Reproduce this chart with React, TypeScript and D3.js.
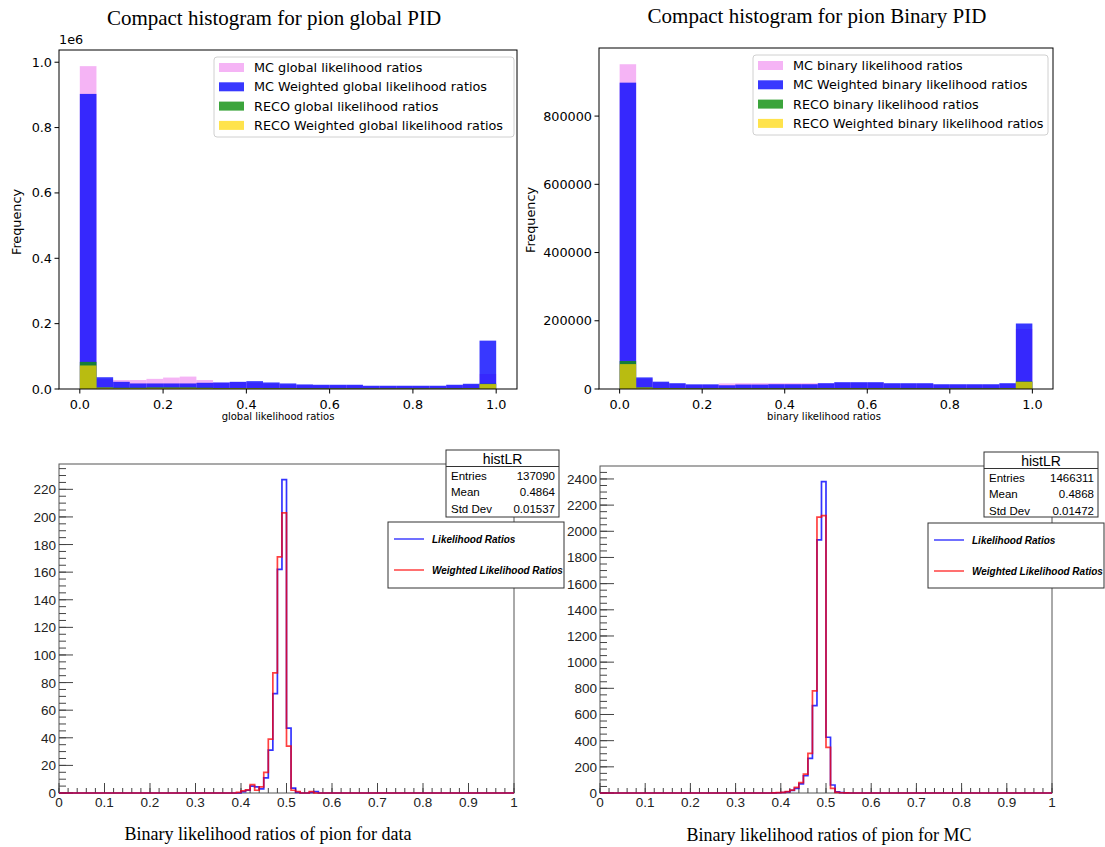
import React from "react";
import * as d3 from "d3";

// ---------- DATA: top histograms (25 bins over 0..1) ----------
const TOP_BINS = 25;
const globalMC = [988000, 30000, 27500, 27500, 31000, 35000, 38000, 27500, 19000, 21000, 19000, 16000, 13000, 12000, 11000, 11000, 11000, 8500, 8500, 8500, 8500, 8500, 11000, 13000, 46000];
const globalMCW = [903000, 36000, 22000, 17000, 17000, 17000, 17000, 19000, 20000, 22000, 24000, 20000, 17000, 14000, 13000, 13000, 13000, 10000, 10000, 10000, 10000, 10000, 13000, 16000, 148000];
const globalRECO = [83000, 5000, 4000, 4000, 5000, 5000, 5000, 4000, 3000, 3000, 3000, 2500, 2500, 2000, 2000, 2000, 2000, 2000, 2000, 2000, 2000, 2000, 2000, 2500, 16000];
const globalRECOW = [72000, 4000, 3000, 3000, 3500, 3500, 3500, 3000, 2500, 2500, 2500, 2000, 2000, 1500, 1500, 1500, 1500, 1500, 1500, 1500, 1500, 1500, 1500, 2000, 15000];

const binaryMC = [952000, 30000, 19000, 15000, 12000, 12000, 16500, 17000, 17000, 17000, 17000, 17000, 16000, 18000, 18000, 18000, 15000, 15000, 15000, 12000, 12000, 12000, 12000, 15000, 176000];
const binaryMCW = [898000, 34000, 21500, 17000, 13700, 13700, 11000, 13000, 13000, 14000, 14000, 14000, 17000, 20000, 20000, 20000, 17000, 17000, 17000, 14000, 14000, 14000, 14000, 17000, 192000];
const binaryRECO = [82000, 5000, 3000, 2500, 2000, 2000, 2000, 2000, 2000, 2000, 2000, 2000, 2500, 2500, 2500, 2500, 2500, 2000, 2000, 2000, 2000, 2000, 2000, 2500, 22000];
const binaryRECOW = [73000, 4000, 2500, 2000, 1500, 1500, 1500, 1500, 1500, 1500, 1500, 1500, 2000, 2000, 2000, 2000, 2000, 1500, 1500, 1500, 1500, 1500, 1500, 2000, 21000];

const globalLegend = ["MC global likelihood ratios", "MC Weighted global likelihood ratios", "RECO global likelihood ratios", "RECO Weighted global likelihood ratios"];
const binaryLegend = ["MC binary likelihood ratios", "MC Weighted binary likelihood ratios", "RECO binary likelihood ratios", "RECO Weighted binary likelihood ratios"];
const topXTicks = [0, 0.2, 0.4, 0.6, 0.8, 1.0];
const globalYTicks = [0, 0.2, 0.4, 0.6, 0.8, 1.0];
const binaryYTicks = [0, 200000, 400000, 600000, 800000];

// ---------- DATA: bottom ROOT histograms (100 bins over 0..1) ----------
const ROOT_BINS = 100;
const dataStartBin = 39; // first listed bin = [0.39, 0.40)
const dataLR = [0, 1, 2, 5, 4.5, 3, 11, 31, 72, 162, 227, 47, 3.5, 0.5, 0, 0, 0.5, 1, 0];
const dataWLR = [0.4, 1.5, 2.2, 6, 2, 4.5, 15, 39, 87, 171, 203, 34, 2, 1, 0, 0, 1, 0, 0];
const mcStartBin = 38;
const mcLR = [1, 2, 4, 8, 20, 36, 69, 132, 265, 668, 1934, 2380, 426, 61, 8, 3, 1, 0];
const mcWLR = [1, 3, 5, 10, 22, 43, 79, 145, 303, 780, 2108, 2120, 349, 36, 5, 2, 1, 0];
const rootXTicks = [0, 0.1, 0.2, 0.3, 0.4, 0.5, 0.6, 0.7, 0.8, 0.9, 1];
const dataStats = [["Entries", "137090"], ["Mean", "0.4864"], ["Std Dev", "0.01537"]];
const mcStats = [["Entries", "1466311"], ["Mean", "0.4868"], ["Std Dev", "0.01472"]];
const rootLegend = ["Likelihood Ratios", "Weighted Likelihood Ratios"];
const rootLegendColors = ["#0000ff", "#ff0000"];

const MPL = "'DejaVu Sans', sans-serif";
const ROOTF = "'Liberation Sans', Arial, Helvetica, sans-serif";
const SERIF = "'Liberation Serif', 'Times New Roman', serif";

const topColors = [
  { fill: "violet", op: 0.6 },
  { fill: "blue", op: 0.78 },
  { fill: "#109010", op: 0.82 },
  { fill: "gold", op: 0.7 },
];

function TopPanel(p: any) {
  const x = d3.scaleLinear().domain([-0.05, 1.05]).range([p.x0, p.x1]);
  const ymax = d3.max(p.series.flat() as number[])! * 1.05;
  const y = d3.scaleLinear().domain([0, ymax]).range([p.yb, p.yb - p.yh]);
  const yt = y(ymax);
  const bw = 1 / TOP_BINS;
  return (
    <g>
      <text x={p.titleX} y={p.titleY} textAnchor="middle" fontFamily={SERIF} fontSize={21}>{p.title}</text>
      {p.series.map((s: number[], si: number) => (
        <g key={si} fill={topColors[si].fill} fillOpacity={topColors[si].op}>
          {s.map((v, i) => (
            <rect key={i} x={x(i * bw)} width={x((i + 1) * bw) - x(i * bw)} y={y(v)} height={p.yb - y(v)} />
          ))}
        </g>
      ))}
      <rect x={p.x0} y={yt} width={p.x1 - p.x0} height={p.yb - yt} fill="none" stroke="#000" strokeWidth={1} />
      {topXTicks.map((t) => (
        <g key={t}>
          <line x1={x(t)} x2={x(t)} y1={p.yb} y2={p.yb + 4.5} stroke="#000" />
          <text x={x(t)} y={p.yb + 20} textAnchor="middle" fontFamily={MPL} fontSize={12.8}>{t.toFixed(1)}</text>
        </g>
      ))}
      {p.yTicks.map((t: number) => (
        <g key={t}>
          <line x1={p.x0 - 4.5} x2={p.x0} y1={y(t * p.yScale)} y2={y(t * p.yScale)} stroke="#000" />
          <text x={p.x0 - 7} y={y(t * p.yScale) + 4.5} textAnchor="end" fontFamily={MPL} fontSize={12.8}>{p.yFmt(t)}</text>
        </g>
      ))}
      {p.offset && <text x={p.x0} y={yt - 6} fontFamily={MPL} fontSize={12.8}>{p.offset}</text>}
      <text x={(p.x0 + p.x1) / 2 + p.xlabDx} y={p.yb + 31} textAnchor="middle" fontFamily={MPL} fontSize={10}>{p.xLabel}</text>
      <text transform={`translate(${p.ylabX},${p.ylabY}) rotate(-90)`} textAnchor="middle" fontFamily={MPL} fontSize={12.8}>Frequency</text>
      <g>
        <rect x={p.lx} y={p.ly} width={p.lw} height={p.lh} rx={3} fill="#fff" fillOpacity={0.8} stroke="#d0d0d0" />
        {p.legend.map((l: string, i: number) => (
          <g key={l}>
            <rect x={p.lx + 5} y={p.ly + 6 + i * 19.3} width={25} height={9} fill={topColors[i].fill} fillOpacity={topColors[i].op} />
            <text x={p.lx + 40} y={p.ly + 15 + i * 19.3} fontFamily={MPL} fontSize={12.8}>{l}</text>
          </g>
        ))}
      </g>
    </g>
  );
}

function fullBins(start: number, vals: number[]) {
  const arr = new Array(ROOT_BINS).fill(0);
  vals.forEach((v, i) => (arr[start + i] = v));
  return arr;
}

function RootPanel(p: any) {
  const x = d3.scaleLinear().domain([0, 1]).range([p.x0, p.x1]);
  const blue = fullBins(p.start, p.blue);
  const red = fullBins(p.start, p.red);
  const ymax = d3.max(blue.concat(red))! * 1.05;
  const y = d3.scaleLinear().domain([0, ymax]).range([p.yb, p.yt]);
  const step = (arr: number[]) => {
    const pts: [number, number][] = [[0, 0]];
    arr.forEach((v, i) => {
      pts.push([i / ROOT_BINS, v]);
      pts.push([(i + 1) / ROOT_BINS, v]);
    });
    pts.push([1, 0]);
    return d3.line<[number, number]>().x((d) => x(d[0])).y((d) => y(d[1]))(pts)!;
  };
  const majors = d3.range(0, ymax, p.major);
  const minors = d3.range(0, ymax, p.minor);
  const xMinors = d3.range(0, 1.0001, 0.02);
  return (
    <g>
      <rect x={p.x0} y={p.yt} width={p.x1 - p.x0} height={p.yb - p.yt} fill="none" stroke="#555" strokeWidth={1} />
      {minors.map((t) => (
        <line key={"m" + t} x1={p.x0} x2={p.x0 + 7} y1={y(t)} y2={y(t)} stroke="#444" />
      ))}
      {majors.map((t) => (
        <g key={"M" + t}>
          <line x1={p.x0} x2={p.x0 + 14} y1={y(t)} y2={y(t)} stroke="#444" />
          <text x={p.x0 - 3} y={y(t) + 5} textAnchor="end" fontFamily={ROOTF} fontSize={13.5} fill="#222">{t}</text>
        </g>
      ))}
      {xMinors.map((t) => (
        <line key={"xm" + t} x1={x(t)} x2={x(t)} y1={p.yb} y2={p.yb - 5} stroke="#444" />
      ))}
      {rootXTicks.map((t) => (
        <g key={"xM" + t}>
          <line x1={x(t)} x2={x(t)} y1={p.yb} y2={p.yb - 10} stroke="#444" />
          <text x={x(t)} y={p.yb + 14} textAnchor="middle" fontFamily={ROOTF} fontSize={13.5} fill="#222">{String(t)}</text>
        </g>
      ))}
      <path d={step(blue)} fill="none" stroke="#0000ff" strokeOpacity={0.8} strokeWidth={1.7} />
      <path d={step(red)} fill="none" stroke="#ff0000" strokeOpacity={0.75} strokeWidth={1.7} />
      <text x={p.titleX} y={p.titleY} textAnchor="middle" fontFamily={SERIF} fontSize={18}>{p.title}</text>
      {/* stats box */}
      <rect x={p.sx} y={p.sy} width={p.sw} height={p.sh} fill="#fff" stroke="#333" />
      <line x1={p.sx} x2={p.sx + p.sw} y1={p.sy + 16.5} y2={p.sy + 16.5} stroke="#333" />
      <text x={p.sx + p.sw / 2} y={p.sy + 14} textAnchor="middle" fontFamily={ROOTF} fontSize={14}>histLR</text>
      {p.stats.map((r: string[], i: number) => (
        <g key={r[0]}>
          <text x={p.sx + 5} y={p.sy + 29.5 + i * 16.5} fontFamily={ROOTF} fontSize={11.5}>{r[0]}</text>
          <text x={p.sx + p.sw - 4} y={p.sy + 29.5 + i * 16.5} textAnchor="end" fontFamily={ROOTF} fontSize={11.5}>{r[1]}</text>
        </g>
      ))}
      {/* legend */}
      <rect x={p.lx} y={p.ly} width={p.lw} height={p.lh} fill="#fff" stroke="#333" />
      {rootLegend.map((l, i) => (
        <g key={l}>
          <line x1={p.lx + 6} x2={p.lx + 36} y1={p.ly + 17 + i * 31} y2={p.ly + 17 + i * 31} stroke={rootLegendColors[i]} strokeOpacity={0.75} strokeWidth={1.5} />
          <text x={p.lx + 44} y={p.ly + 20.5 + i * 31} fontFamily={ROOTF} fontSize={10} fontWeight="bold" fontStyle="italic">{l}</text>
        </g>
      ))}
    </g>
  );
}

export default function App() {
  return (
    <svg width={1105} height={847} style={{ position: "absolute", left: 0, top: 0, background: "#fff" }}>
      <rect width={1105} height={847} fill="#fff" />
      <TopPanel
        title="Compact histogram for pion global PID" titleX={274} titleY={25}
        series={[globalMC, globalMCW, globalRECO, globalRECOW]}
        x0={59} x1={517} yb={389} yh={339}
        yTicks={globalYTicks} yScale={1e6} yFmt={(t: number) => t.toFixed(1)} offset="1e6"
        xLabel="global likelihood ratios" xlabDx={-10} ylabX={21} ylabY={222}
        legend={globalLegend} lx={214} ly={57} lw={300} lh={80}
      />
      <TopPanel
        title="Compact histogram for pion Binary PID" titleX={817} titleY={23}
        series={[binaryMC, binaryMCW, binaryRECO, binaryRECOW]}
        x0={599} x1={1053} yb={389} yh={341}
        yTicks={binaryYTicks} yScale={1} yFmt={(t: number) => String(t)} offset={null}
        xLabel="binary likelihood ratios" xlabDx={-2} ylabX={535} ylabY={220}
        legend={binaryLegend} lx={753} ly={55} lw={295} lh={80}
      />
      <RootPanel
        x0={59} x1={514} yt={464} yb={793}
        start={dataStartBin} blue={dataLR} red={dataWLR} major={20} minor={5}
        title="Binary likelihood ratios of pion for data" titleX={268} titleY={840}
        stats={dataStats} sx={446} sy={450} sw={113} sh={67}
        lx={388} ly={522} lw={176} lh={66}
      />
      <RootPanel
        x0={600} x1={1052} yt={466} yb={793}
        start={mcStartBin} blue={mcLR} red={mcWLR} major={200} minor={50}
        title="Binary likelihood ratios of pion for MC" titleX={829} titleY={841}
        stats={mcStats} sx={984} sy={452} sw={114} sh={65}
        lx={928} ly={523} lw={176} lh={65}
      />
    </svg>
  );
}
